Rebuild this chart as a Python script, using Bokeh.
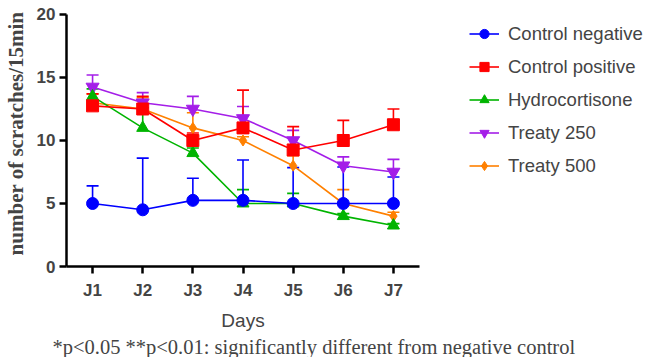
from bokeh.plotting import figure
from bokeh.models import (ColumnDataSource, Range1d, FixedTicker, Legend, LegendItem,
                          Whisker, TeeHead, Title)
from bokeh.embed import file_html
from bokeh.resources import INLINE

days = ["J1", "J2", "J3", "J4", "J5", "J6", "J7"]

series_names = ["Control negative", "Control positive", "Hydrocortisone", "Treaty 250", "Treaty 500"]
ctrl_neg = [5.0, 4.5, 5.25, 5.25, 5.0, 5.0, 5.0]
ctrl_neg_up = [6.4, 8.6, 7.0, 8.45, 7.85, 7.9, 7.1]
ctrl_pos = [12.75, 12.5, 10.0, 11.0, 9.25, 10.0, 11.25]
ctrl_pos_up = [13.7, 13.5, 10.6, 14.0, 11.1, 11.6, 12.5]
hydro = [13.5, 11.0, 9.0, 5.0, 5.0, 4.0, 3.25]
hydro_up = [14.1, 12.6, 9.4, 6.1, 5.8, 4.2, 3.4]
treaty250 = [14.25, 13.0, 12.5, 11.75, 10.0, 8.0, 7.5]
treaty250_up = [15.2, 13.8, 13.5, 12.7, 10.8, 8.7, 8.5]
treaty500 = [13.0, 12.5, 11.0, 10.0, 8.0, 5.0, 4.0]
treaty500_up = [13.7, 13.4, 12.2, 10.3, 8.8, 6.1, 4.3]
y_ticks = [0, 5, 10, 15, 20]

colors = ["#0000FF", "#FF0000", "#00B400", "#A41EE8", "#FF8000"]
markers = ["circle", "square", "triangle", "inverted_triangle", "diamond"]
sizes = [12, 12, 12, 13, 11]
means = [ctrl_neg, ctrl_pos, hydro, treaty250, treaty500]
uppers = [ctrl_neg_up, ctrl_pos_up, hydro_up, treaty250_up, treaty500_up]

xs = list(range(1, len(days) + 1))

p = figure(frame_width=353, frame_height=266, output_backend="svg", toolbar_location=None,
           title=None,
           x_range=Range1d(0.48, 7.52), y_range=Range1d(0, 21.111),
           min_border_left=57, min_border_top=0, min_border_right=5, min_border_bottom=5)
p.outline_line_color = None
p.grid.visible = False
p.background_fill_color = "white"

renderers = {}
for i in reversed(range(5)):
    src = ColumnDataSource(dict(x=xs, y=means[i], up=uppers[i]))
    w = Whisker(source=src, base="x", lower="y", upper="up", dimension="height",
                line_color=colors[i], line_width=1.6,
                upper_head=TeeHead(size=12, line_color=colors[i], line_width=1.6),
                lower_head=None)
    p.add_layout(w)
    ln = p.line("x", "y", source=src, line_color=colors[i], line_width=1.6)
    sc = p.scatter("x", "y", source=src, marker=markers[i], size=sizes[i],
                   fill_color=colors[i], line_color=colors[i])
    renderers[i] = [ln, sc]

items = [LegendItem(label=series_names[i], renderers=renderers[i]) for i in range(5)]
legend = Legend(items=items, location=(50, 89), margin=0, padding=0,
                label_height=23, glyph_height=23, glyph_width=30, spacing=10,
                label_standoff=9, border_line_color=None, background_fill_alpha=0,
                label_text_font="Liberation Sans", label_text_font_size="18.5px")
p.add_layout(legend, "right")

# axes
for ax in (p.xaxis[0], p.yaxis[0]):
    ax.axis_line_width = 2.5
    ax.major_tick_line_width = 2.5
    ax.major_tick_in = 0
    ax.major_tick_out = 7
    ax.minor_tick_line_color = None
    ax.major_label_text_font = "Liberation Sans"
    ax.major_label_text_font_style = "bold"
    ax.major_label_text_font_size = "17px"

p.xaxis.ticker = FixedTicker(ticks=xs)
p.xaxis.major_label_overrides = {x: d for x, d in zip(xs, days)}
p.xaxis.major_label_standoff = 7
p.xaxis.axis_label = "Days"
p.xaxis.axis_label_text_font = "Liberation Sans"
p.xaxis.axis_label_text_font_style = "normal"
p.xaxis.axis_label_text_font_size = "19px"
p.xaxis.axis_label_standoff = 7

p.yaxis.ticker = FixedTicker(ticks=y_ticks)
p.yaxis.bounds = (0, 20)
p.yaxis.major_label_standoff = 4
p.yaxis.axis_label = "number of scratches/15min"
p.yaxis.axis_label_text_font = "Liberation Serif"
p.yaxis.axis_label_text_font_style = "bold"
p.yaxis.axis_label_text_font_size = "21px"
p.yaxis.axis_label_standoff = 6

foot = Title(text="*p<0.05 **p<0.01: significantly different from negative control",
             align="left", offset=-14, text_font="Liberation Serif",
             text_font_style="normal", text_font_size="20.5px", standoff=0)
p.add_layout(foot, "below")

open("out.html", "w").write(file_html(p, INLINE))
